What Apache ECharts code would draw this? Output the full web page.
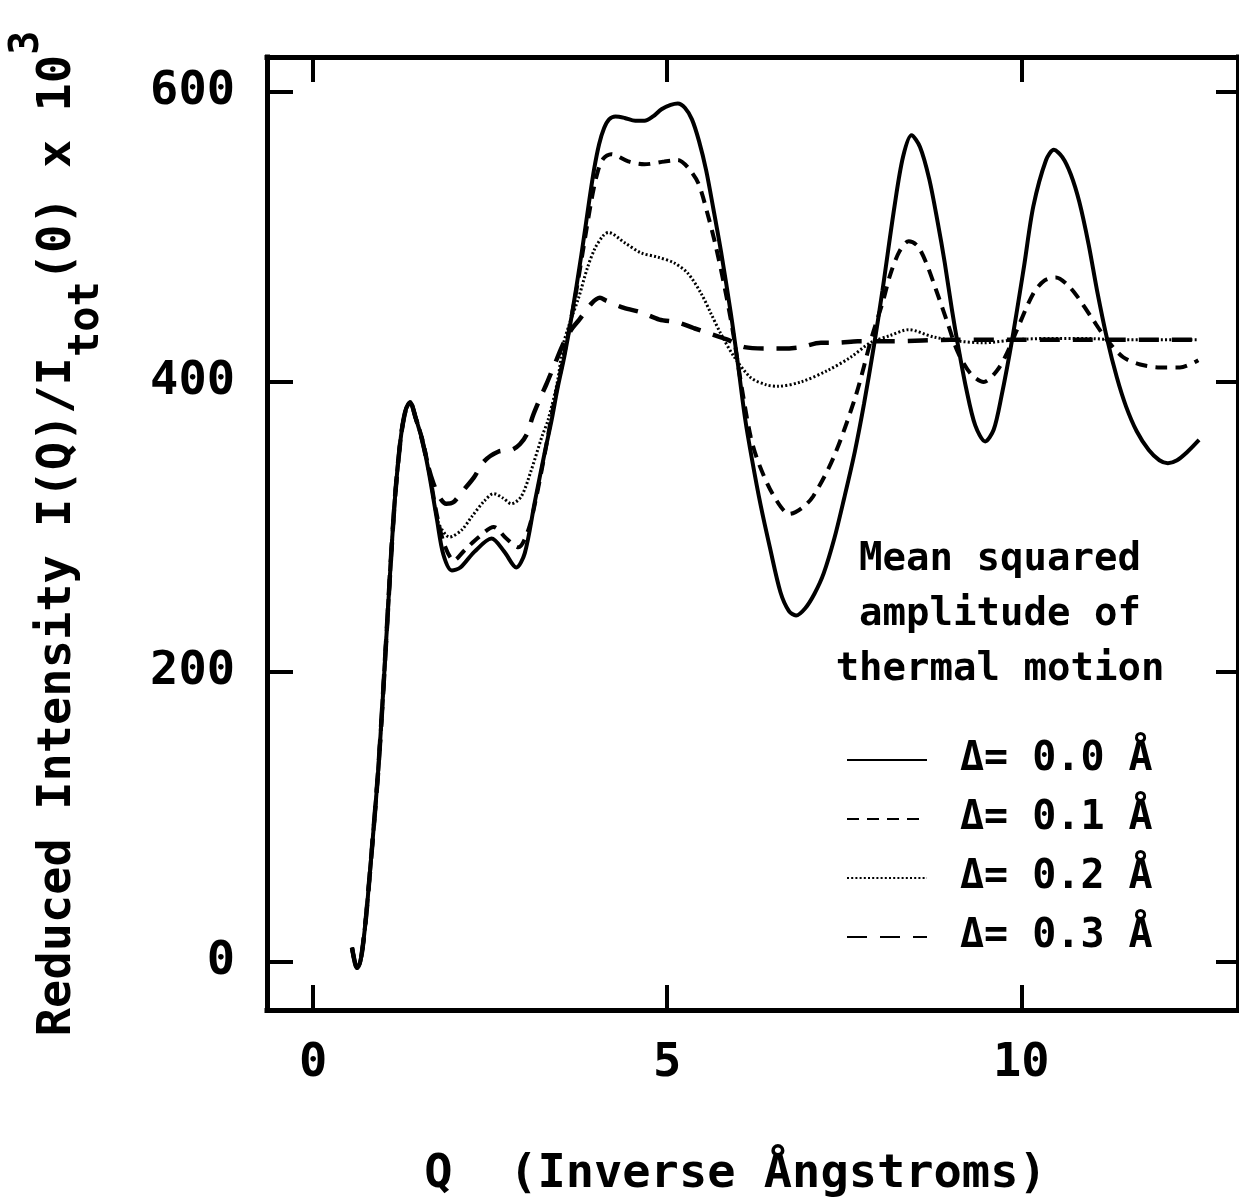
<!DOCTYPE html>
<html>
<head>
<meta charset="utf-8">
<title>Reduced Intensity vs Q</title>
<script src="https://cdn.jsdelivr.net/npm/echarts@6/dist/echarts.min.js"></script>
<style>
  html, body { margin: 0; padding: 0; background: #fff; }
  #chart { width: 1239px; height: 1204px; }
</style>
</head>
<body>
<div id="chart"></div>
<script>
// Reduced intensity I(Q)/Itot(0) x 10^3 versus Q for four thermal-motion amplitudes.

// Low-Q part shared by all four curves (first peak is unaffected by thermal motion)
const qLow = [0.55, 0.59, 0.62, 0.66, 0.70, 0.75, 0.80, 0.86, 0.92, 0.98, 1.04, 1.10, 1.16, 1.24, 1.31, 1.37];
const iLow = [10, 0, -4, -1, 10, 32, 60, 95, 132, 178, 228, 278, 322, 362, 381, 386];

// Delta = 0.0 A
const q00 = [1.45, 1.54, 1.63, 1.75, 1.84, 1.96, 2.08, 2.28, 2.52, 2.70, 2.87, 2.99, 3.13, 3.27, 3.37, 3.45, 3.55, 3.65, 3.79, 3.90, 3.97, 4.04, 4.11, 4.18, 4.27, 4.40, 4.55, 4.68, 4.80, 4.92, 5.05, 5.15, 5.25, 5.35, 5.45, 5.55, 5.65, 5.76, 5.90, 6.00, 6.10, 6.20, 6.32, 6.45, 6.60, 6.72, 6.82, 6.95, 7.08, 7.21, 7.36, 7.50, 7.65, 7.78, 7.92, 8.04, 8.21, 8.33, 8.45, 8.57, 8.70, 8.82, 8.92, 9.02, 9.10, 9.22, 9.35, 9.49, 9.61, 9.72, 9.87, 10.04, 10.17, 10.35, 10.46, 10.58, 10.70, 10.82, 10.95, 11.07, 11.21, 11.35, 11.48, 11.63, 11.80, 11.95, 12.07, 12.20, 12.35, 12.51];
const i00 = [375, 360, 339, 305, 281, 270, 272, 283, 292, 283, 272, 282, 317, 351, 374, 395, 418, 445, 488, 525, 547, 564, 575, 581, 583, 582, 580, 580, 583, 588, 591, 592, 589, 581, 566, 546, 520, 490, 447, 412, 375, 346, 315, 286, 255, 242, 239, 244, 254, 268, 292, 320, 352, 385, 425, 463, 521, 555, 570, 562, 540, 510, 482, 450, 427, 396, 370, 359, 367, 390, 429, 480, 521, 553, 560, 555, 543, 524, 495, 463, 430, 403, 383, 366, 353, 346, 344, 346, 352, 360];

// Delta = 0.1 A
const q01 = [1.45, 1.54, 1.63, 1.75, 1.86, 1.99, 2.14, 2.34, 2.55, 2.73, 2.90, 3.04, 3.15, 3.27, 3.40, 3.55, 3.70, 3.82, 3.93, 4.02, 4.10, 4.21, 4.45, 4.68, 4.96, 5.15, 5.29, 5.44, 5.57, 5.68, 5.80, 5.92, 6.05, 6.18, 6.30, 6.51, 6.73, 6.90, 7.06, 7.35, 7.66, 7.89, 8.05, 8.15, 8.28, 8.41, 8.53, 8.65, 8.80, 8.95, 9.10, 9.28, 9.47, 9.66, 9.80, 9.94, 10.17, 10.33, 10.49, 10.65, 10.79, 11.01, 11.21, 11.44, 11.68, 11.96, 12.24, 12.50];
const i01 = [375, 361, 341, 308, 287, 277, 284, 293, 300, 292, 286, 298, 320, 350, 385, 420, 458, 493, 525, 545, 554, 557, 552, 550, 552, 553, 548, 537, 516, 495, 468, 437, 397, 362, 343, 321, 309, 313, 321, 348, 390, 431, 456, 474, 490, 497, 494, 483, 463, 442, 421, 406, 400, 408, 420, 436, 461, 470, 472, 467, 459, 443, 429, 417, 412, 410, 410, 415];

// Delta = 0.2 A
const q02 = [1.45, 1.54, 1.63, 1.70, 1.77, 1.93, 2.10, 2.24, 2.42, 2.55, 2.68, 2.80, 2.94, 3.08, 3.23, 3.32, 3.45, 3.53, 3.62, 3.75, 3.87, 3.98, 4.10, 4.17, 4.40, 4.63, 4.87, 5.10, 5.29, 5.48, 5.62, 5.76, 5.95, 6.18, 6.40, 6.56, 6.89, 7.27, 7.59, 7.87, 8.15, 8.41, 8.76, 9.14, 9.47, 9.90, 10.40, 10.90, 11.40, 11.90, 12.50];
const i02 = [375, 360, 340, 320, 303, 293, 298, 307, 318, 323, 320, 316, 321, 339, 362, 374, 400, 425, 440, 458, 478, 492, 501, 503, 496, 489, 486, 482, 475, 461, 447, 433, 417, 403, 398, 397, 400, 408, 417, 427, 432, 436, 431, 428, 427, 429, 430, 430, 429, 429, 429];

// Delta = 0.3 A
const q03 = [1.45, 1.54, 1.63, 1.70, 1.78, 1.88, 1.98, 2.10, 2.27, 2.41, 2.62, 2.80, 2.92, 3.02, 3.10, 3.20, 3.30, 3.41, 3.55, 3.66, 3.76, 3.93, 4.05, 4.14, 4.39, 4.63, 4.89, 5.15, 5.38, 5.62, 5.86, 6.09, 6.42, 6.63, 6.89, 7.17, 7.41, 7.69, 8.20, 9.00, 10.00, 11.00, 12.50];
const i03 = [375, 360, 341, 330, 321, 316, 317, 324, 334, 345, 352, 353, 357, 364, 376, 388, 399, 412, 428, 437, 443, 454, 458, 456, 451, 448, 443, 441, 437, 433, 429, 424, 423, 423, 424, 427, 427, 428, 428, 429, 429, 429, 429];

const seriesNames = ['\u0394= 0.0 \u00C5', '\u0394= 0.1 \u00C5', '\u0394= 0.2 \u00C5', '\u0394= 0.3 \u00C5'];

// Axis ticks and labels
const xTicks = [0, 5, 10];
const yTicks = [0, 200, 400, 600];

const FONT = 'DejaVu Sans Mono';
const INK = '#000';

function pairs(qa, ia) {
  const out = [];
  for (let k = 0; k < qa.length; k++) out.push([qa[k], ia[k]]);
  return out;
}
function withLow(qa, ia) {
  return pairs(qLow.concat(qa), iLow.concat(ia));
}

const lineStyles = [
  { color: INK, width: 4, type: 'solid' },
  { color: INK, width: 4, type: [12, 8] },
  { color: INK, width: 3, type: [2, 2.2] },
  { color: INK, width: 4.5, type: [20, 13] }
];
const curveData = [withLow(q00, i00), withLow(q01, i01), withLow(q02, i02), withLow(q03, i03)];

const chart = echarts.init(document.getElementById('chart'), null, { renderer: 'canvas' });

const tickLabelStyle = {
  fontFamily: FONT, fontWeight: 'bold', fontSize: 47, color: INK
};

const frameLine = { onZero: false, lineStyle: { color: INK, width: 5, cap: 'square' } };
const tickStyle = { color: INK, width: 4 };

chart.setOption({
  animation: false,
  backgroundColor: '#fff',
  grid: { left: 265, right: 1, top: 57, bottom: 194, containLabel: false },
  title: {
    text: 'Mean squared\namplitude of\nthermal motion',
    left: 1000,
    top: 532,
    textAlign: 'center',
    padding: 0,
    textStyle: {
      fontFamily: FONT, fontWeight: 'bold', fontSize: 39, lineHeight: 55, color: INK
    }
  },
  legend: {
    orient: 'vertical',
    left: 846,
    top: 740,
    padding: 0,
    itemWidth: 80,
    itemHeight: 14,
    itemGap: 19,
    selectedMode: false,
    data: seriesNames,
    itemStyle: { opacity: 0, borderWidth: 0 },
    textStyle: {
      fontFamily: FONT, fontWeight: 'bold', fontSize: 40, lineHeight: 40, color: INK,
      padding: [0, 0, 0, 28]
    }
  },
  xAxis: [
    {
      type: 'value', position: 'bottom', min: -0.65, max: 13.06,
      axisLine: frameLine,
      axisTick: { inside: true, length: 25, lineStyle: tickStyle, customValues: xTicks },
      axisLabel: Object.assign({ margin: 30, customValues: xTicks }, tickLabelStyle),
      splitLine: { show: false },
      name: 'Q  (Inverse \u00C5ngstroms)',
      nameLocation: 'middle',
      nameGap: 141,
      nameTextStyle: Object.assign({ padding: [0, 34, 0, 0] }, tickLabelStyle)
    },
    {
      type: 'value', position: 'top', min: -0.65, max: 13.06,
      axisLine: frameLine,
      axisTick: { inside: true, length: 25, lineStyle: tickStyle, customValues: xTicks },
      axisLabel: { show: false },
      splitLine: { show: false }
    }
  ],
  yAxis: [
    {
      type: 'value', position: 'left', min: -33, max: 624,
      axisLine: frameLine,
      axisTick: { inside: true, length: 26, lineStyle: tickStyle, customValues: yTicks },
      axisLabel: Object.assign({ margin: 32, customValues: yTicks }, tickLabelStyle),
      splitLine: { show: false },
      name: '{a|Reduced Intensity I(Q)/I}{b|tot}{a|(0) x 10}{c|3}',
      nameLocation: 'middle',
      nameGap: 159,
      nameTextStyle: {
        fontFamily: FONT, fontWeight: 'bold', fontSize: 47, color: INK,
        padding: [0, 0, 0, 0],
        rich: {
          a: { fontFamily: FONT, fontWeight: 'bold', fontSize: 47, lineHeight: 100, color: INK },
          b: { fontFamily: FONT, fontWeight: 'bold', fontSize: 42, lineHeight: 40, verticalAlign: 'bottom', color: INK },
          c: { fontFamily: FONT, fontWeight: 'bold', fontSize: 40, lineHeight: 40, verticalAlign: 'top', color: INK }
        }
      }
    },
    {
      type: 'value', position: 'right', min: -33, max: 624,
      axisLine: frameLine,
      axisTick: { inside: true, length: 22, lineStyle: tickStyle, customValues: yTicks },
      axisLabel: { show: false },
      splitLine: { show: false }
    }
  ],
  series: seriesNames.map(function (name, k) {
    return {
      name: name,
      type: 'line',
      xAxisIndex: 0,
      yAxisIndex: 0,
      data: curveData[k],
      showSymbol: false,
      symbol: 'none',
      smooth: 0.3,
      lineStyle: lineStyles[k],
      itemStyle: { color: INK },
      z: 4 - k
    };
  })
});
</script>
</body>
</html>
